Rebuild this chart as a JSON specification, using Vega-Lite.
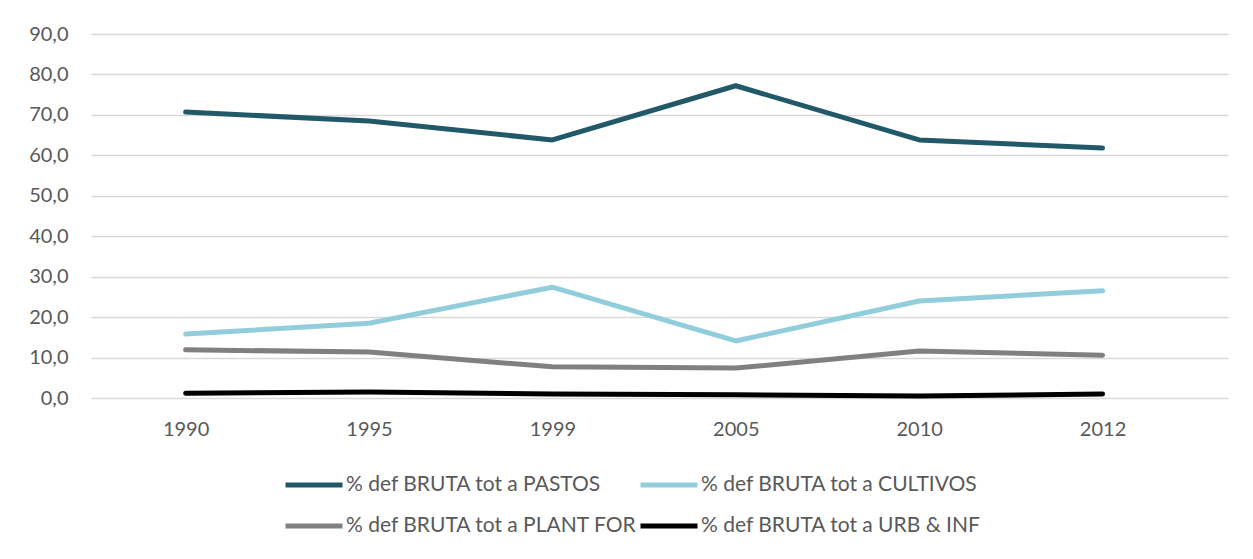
{
  "$schema": "https://vega.github.io/schema/vega-lite/v6.json",
  "width": 1137,
  "height": 364,
  "autosize": {"type": "none"},
  "padding": {"left": 91, "top": 34, "right": 25, "bottom": 161},
  "background": "white",
  "config": {
    "locale": {"number": {"decimal": ",", "thousands": ".", "grouping": [3], "currency": ["", " €"]}},
    "font": "Lato",
    "view": {"stroke": null}
  },
  "data": {
    "values": [
      {"year": "1990", "serie": "% def BRUTA tot a PASTOS", "v": 70.7},
      {"year": "1995", "serie": "% def BRUTA tot a PASTOS", "v": 68.5},
      {"year": "1999", "serie": "% def BRUTA tot a PASTOS", "v": 63.8},
      {"year": "2005", "serie": "% def BRUTA tot a PASTOS", "v": 77.2},
      {"year": "2010", "serie": "% def BRUTA tot a PASTOS", "v": 63.8},
      {"year": "2012", "serie": "% def BRUTA tot a PASTOS", "v": 61.8},
      {"year": "1990", "serie": "% def BRUTA tot a CULTIVOS", "v": 15.8},
      {"year": "1995", "serie": "% def BRUTA tot a CULTIVOS", "v": 18.5},
      {"year": "1999", "serie": "% def BRUTA tot a CULTIVOS", "v": 27.4},
      {"year": "2005", "serie": "% def BRUTA tot a CULTIVOS", "v": 14.1},
      {"year": "2010", "serie": "% def BRUTA tot a CULTIVOS", "v": 24.0},
      {"year": "2012", "serie": "% def BRUTA tot a CULTIVOS", "v": 26.5},
      {"year": "1990", "serie": "% def BRUTA tot a PLANT FOR", "v": 11.9},
      {"year": "1995", "serie": "% def BRUTA tot a PLANT FOR", "v": 11.4},
      {"year": "1999", "serie": "% def BRUTA tot a PLANT FOR", "v": 7.7},
      {"year": "2005", "serie": "% def BRUTA tot a PLANT FOR", "v": 7.4},
      {"year": "2010", "serie": "% def BRUTA tot a PLANT FOR", "v": 11.6},
      {"year": "2012", "serie": "% def BRUTA tot a PLANT FOR", "v": 10.6},
      {"year": "1990", "serie": "% def BRUTA tot a URB & INF", "v": 1.2},
      {"year": "1995", "serie": "% def BRUTA tot a URB & INF", "v": 1.5},
      {"year": "1999", "serie": "% def BRUTA tot a URB & INF", "v": 1.0},
      {"year": "2005", "serie": "% def BRUTA tot a URB & INF", "v": 0.8},
      {"year": "2010", "serie": "% def BRUTA tot a URB & INF", "v": 0.5},
      {"year": "2012", "serie": "% def BRUTA tot a URB & INF", "v": 1.0}
    ]
  },
  "mark": {"type": "line", "strokeWidth": 5, "strokeCap": "round", "strokeJoin": "round"},
  "encoding": {
    "x": {
      "field": "year", "type": "ordinal",
      "scale": {"type": "point", "padding": 0.6, "align": 0.43},
      "axis": {"title": null, "labelAngle": 0, "domain": false, "ticks": false, "tickSize": 0, "grid": false,
               "labelFontSize": 20, "labelColor": "#595959", "labelPadding": 21, "labelFont": "Lato"}
    },
    "y": {
      "field": "v", "type": "quantitative",
      "scale": {"domain": [0, 90], "nice": false},
      "axis": {"title": null, "values": [0,10,20,30,40,50,60,70,80,90], "format": ".1f", "domain": false, "ticks": false, "tickSize": 0,
               "gridColor": "#d9d9d9", "gridWidth": 1.3, "labelFontSize": 20, "labelColor": "#595959", "labelPadding": 23, "labelFont": "Lato"}
    },
    "color": {
      "field": "serie", "type": "nominal",
      "scale": {
        "domain": ["% def BRUTA tot a PASTOS", "% def BRUTA tot a CULTIVOS", "% def BRUTA tot a PLANT FOR", "% def BRUTA tot a URB & INF"],
        "range": ["#215968", "#92cddc", "#808080", "#000000"]
      },
      "legend": {
        "title": null, "orient": "none", "legendX": 192, "legendY": 420, "direction": "horizontal", "columns": 2,
        "symbolType": "stroke", "symbolSize": 3249, "symbolStrokeWidth": 5,
        "labelFontSize": 21, "labelColor": "#595959", "labelFont": "Lato", "labelOffset": 1,
        "columnPadding": -12, "rowPadding": -15, "labelLimit": 400
      }
    }
  }
}
